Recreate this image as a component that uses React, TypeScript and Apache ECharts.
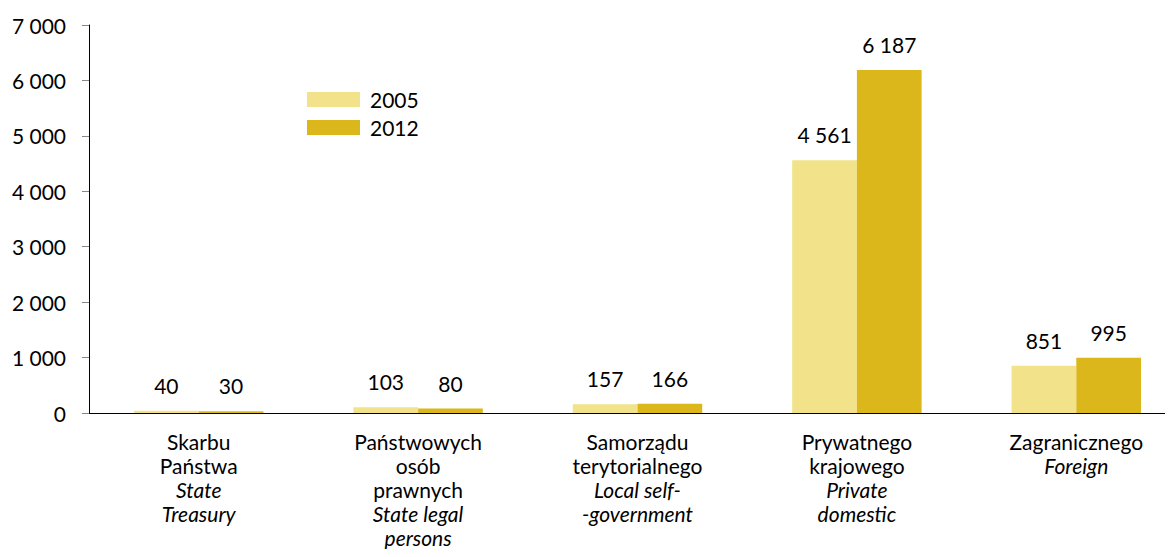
import React, { useEffect, useRef } from "react";
import * as echarts from "echarts";

const categoriesPl: string[][] = [
  ["Skarbu", "Państwa"],
  ["Państwowych", "osób", "prawnych"],
  ["Samorządu", "terytorialnego"],
  ["Prywatnego", "krajowego"],
  ["Zagranicznego"],
];
const categoriesEn: string[][] = [
  ["State", "Treasury"],
  ["State legal", "persons"],
  ["Local self-", "-government"],
  ["Private", "domestic"],
  ["Foreign"],
];
const seriesNames = ["2005", "2012"];
const values2005 = [40, 103, 157, 4561, 851];
const values2012 = [30, 80, 166, 6187, 995];
const yTicks = { min: 0, max: 7000, interval: 1000 };

const FONT = "Lato";
const FS = 21;
const fmt = (v: number) => String(v).replace(/\B(?=(\d{3})+(?!\d))/g, " ");

export default function App() {
  const ref = useRef<HTMLDivElement>(null);
  useEffect(() => {
    if (!ref.current) return;
    const chart = echarts.init(ref.current, undefined, { renderer: "svg" });
    const catKeys = categoriesPl.map((_, i) => String(i));
    const label = {
      show: true,
      position: "top" as const,
      distance: 15,
      color: "#000",
      fontFamily: FONT,
      fontSize: FS,
      formatter: (p: any) => fmt(p.value),
    };
    chart.setOption({
      animation: false,
      textStyle: { fontFamily: FONT },
      grid: { left: 89, right: 0, top: 25, bottom: 144, containLabel: false },
      legend: {
        orient: "vertical",
        left: 307,
        top: 89,
        padding: 0,
        itemWidth: 53,
        itemHeight: 15,
        itemGap: 7,
        icon: "rect",
        textStyle: { fontFamily: FONT, fontSize: FS, color: "#000", padding: [0, 0, 0, 5] },
        data: seriesNames,
      },
      xAxis: {
        type: "category",
        data: catKeys,
        axisLine: { lineStyle: { color: "#000", width: 1 } },
        axisTick: { show: false },
        axisLabel: {
          interval: 0,
          margin: 16,
          color: "#000",
          fontFamily: FONT,
          formatter: (v: string) => {
            const i = Number(v);
            const pl = categoriesPl[i].map((s) => `{n|${s}}`);
            const en = categoriesEn[i].map((s) => `{i|${s}}`);
            return [...pl, ...en].join("\n");
          },
          rich: {
            n: { fontFamily: FONT, fontSize: FS, lineHeight: 24, color: "#000" },
            i: { fontFamily: FONT, fontSize: FS, lineHeight: 24, fontStyle: "italic", color: "#000" },
          },
        },
      },
      yAxis: {
        type: "value",
        min: yTicks.min,
        max: yTicks.max,
        interval: yTicks.interval,
        axisLine: { show: true, lineStyle: { color: "#000", width: 1 } },
        axisTick: { show: true, length: 7, lineStyle: { color: "#888" } },
        splitLine: { show: false },
        axisLabel: {
          margin: 23,
          color: "#000",
          fontFamily: FONT,
          fontSize: FS,
          formatter: (v: number) => fmt(v),
        },
      },
      series: [
        {
          name: seriesNames[0],
          type: "bar",
          data: values2005,
          itemStyle: { color: "#F2E28A" },
          barGap: "0%",
          barCategoryGap: "41%",
          label,
        },
        {
          name: seriesNames[1],
          type: "bar",
          data: values2012,
          itemStyle: { color: "#DCB71C" },
          barGap: "0%",
          barCategoryGap: "41%",
          label,
        },
      ],
    });
    return () => chart.dispose();
  }, []);
  return (
    <div style={{ width: 1173, height: 557, margin: -8, overflow: "hidden", position: "relative" }}>
      <div ref={ref} style={{ width: 1186, height: 557 }} />
    </div>
  );
}
